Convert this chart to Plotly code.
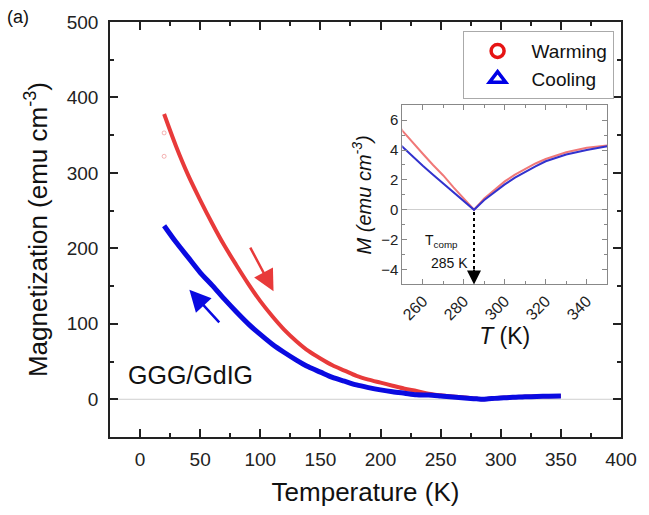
import plotly.graph_objects as go

# ---- data ----
T_warm = [20, 30, 40, 50, 60, 70, 80, 90, 100, 110, 120, 130, 140, 150, 160, 170, 180,
          190, 200, 210, 220, 230, 240, 250, 255, 260, 265, 270, 275, 280, 285,
          290, 295, 300, 305, 310, 315, 320, 330, 340, 350]
M_warm = [378, 335, 297, 264, 233, 204, 178, 153, 130, 110, 92, 77, 64, 54, 45, 38, 31,
          26, 22, 18, 14, 11, 7.5, 5.3, 4.5, 3.75, 3.0, 2.3, 1.5, 0.75, 0.0,
          0.75, 1.35, 1.9, 2.35, 2.75, 3.1, 3.4, 3.85, 4.15, 4.3]

T_cool = [20, 30, 40, 50, 60, 70, 80, 90, 100, 110, 120, 130, 140, 150, 160, 170, 180,
          190, 200, 210, 220, 230, 240, 250, 255, 260, 265, 270, 275, 280, 285,
          290, 295, 300, 305, 310, 315, 320, 330, 340, 350]
M_cool = [230, 208, 188, 168, 151, 133, 116, 100, 86, 73, 62, 52, 43, 36, 29, 24, 19,
          15.5, 12.5, 10, 8, 6, 5.5, 4.2, 3.55, 2.95, 2.35, 1.75, 1.15, 0.55, 0.0,
          0.65, 1.2, 1.7, 2.15, 2.55, 2.9, 3.25, 3.7, 4.0, 4.25]

# stray faint warming points at the start
T_stray = [20, 20]
M_stray = [353, 322]

x_ticks = [0, 50, 100, 150, 200, 250, 300, 350, 400]
y_ticks = [0, 100, 200, 300, 400, 500]
inset_x_ticks = [260, 280, 300, 320, 340]
inset_y_ticks = [-4, -2, 0, 2, 4, 6]

RED = "rgb(232,58,58)"
BLUE = "rgb(10,10,225)"
RED_IN = "rgb(240,120,120)"
BLUE_IN = "rgb(50,50,205)"
FONT = "Arial, Liberation Sans, sans-serif"

fig = go.Figure()

# main curves
fig.add_trace(go.Scatter(x=T_warm, y=M_warm, mode="lines",
                         line=dict(color=RED, width=4, shape="spline", smoothing=0.8),
                         showlegend=False, xaxis="x", yaxis="y"))
fig.add_trace(go.Scatter(x=T_cool, y=M_cool, mode="lines",
                         line=dict(color=BLUE, width=5, shape="spline", smoothing=0.8),
                         showlegend=False, xaxis="x", yaxis="y"))
fig.add_trace(go.Scatter(x=T_stray, y=M_stray, mode="markers",
                         marker=dict(symbol="circle-open", size=4, color="rgba(230,90,90,0.45)",
                                     line=dict(width=1)),
                         showlegend=False, xaxis="x", yaxis="y"))

# legend entries
fig.add_trace(go.Scatter(x=[None], y=[None], mode="markers", name="Warming",
                         marker=dict(symbol="circle-open", size=13, color="rgb(230,20,20)",
                                     line=dict(width=3.5)), xaxis="x", yaxis="y"))
fig.add_trace(go.Scatter(x=[None], y=[None], mode="markers", name="Cooling",
                         marker=dict(symbol="triangle-up-open", size=14, color="rgb(0,0,230)",
                                     line=dict(width=3.5)), xaxis="x", yaxis="y"))

# inset curves
fig.add_trace(go.Scatter(x=T_warm, y=M_warm, mode="lines", line=dict(color=RED_IN, width=2),
                         showlegend=False, xaxis="x2", yaxis="y2"))
fig.add_trace(go.Scatter(x=T_cool, y=M_cool, mode="lines", line=dict(color=BLUE_IN, width=2),
                         showlegend=False, xaxis="x2", yaxis="y2"))

axis_common = dict(showline=True, linecolor="#222", linewidth=1.5, mirror="ticks",
                   ticks="inside", ticklen=8, tickwidth=1.5, tickcolor="#222",
                   showgrid=False, zeroline=False,
                   tickfont=dict(size=19, color="#222", family=FONT))

fig.update_layout(
    width=649, height=515,
    margin=dict(l=110, r=18, t=18, b=78),
    paper_bgcolor="white", plot_bgcolor="white",
    font=dict(family=FONT, color="#111"),
    xaxis=dict(**axis_common, range=[-25, 400], tickvals=x_ticks,
               minor=dict(ticks="inside", ticklen=4, dtick=25, tick0=0, tickcolor="#222"),
               ticklabelstandoff=4,
               title=dict(text="Temperature (K)", font=dict(size=26, family=FONT, color="#111"),
                          standoff=14)),
    yaxis=dict(**axis_common, range=[-50, 500], tickvals=y_ticks,
               minor=dict(ticks="inside", ticklen=4, dtick=50, tick0=0, tickcolor="#222"),
               ticklabelstandoff=6,
               title=dict(text="Magnetization (emu cm<sup>-3</sup>)",
                          font=dict(size=26, family=FONT, color="#111"), standoff=12)),
    xaxis2=dict(domain=[0.572, 0.973], anchor="y2", range=[250, 350], tickvals=inset_x_ticks,
                showline=True, linecolor="#888", linewidth=1, mirror="ticks",
                ticks="inside", ticklen=5, tickcolor="#888", showgrid=False, zeroline=False,
                minor=dict(ticks="inside", ticklen=3, dtick=10, tick0=250, tickcolor="#888"),
                tickangle=-45, tickfont=dict(size=16, color="#222", family=FONT),
                title=dict(text="<i>T</i> (K)", font=dict(size=23, family=FONT, color="#111"),
                           standoff=0)),
    yaxis2=dict(domain=[0.3675, 0.7995], anchor="x2", range=[-5, 7], tickvals=inset_y_ticks,
                showline=True, linecolor="#888", linewidth=1, mirror="ticks",
                ticks="inside", ticklen=5, tickcolor="#888", showgrid=False,
                zeroline=True, zerolinecolor="#cfcfcf", zerolinewidth=1,
                minor=dict(ticks="inside", ticklen=3, dtick=1, tick0=0, tickcolor="#888"),
                tickfont=dict(size=15, color="#222", family=FONT),
                title=dict(text="<i>M (emu cm<sup>-3</sup>)</i>",
                           font=dict(size=20, family=FONT, color="#111"), standoff=4)),
    legend=dict(x=0.69, y=0.978, xanchor="left", yanchor="top",
                bordercolor="#aaa", borderwidth=1, bgcolor="white",
                font=dict(size=19, family=FONT, color="#111"),
                itemwidth=58, tracegroupgap=0),
)

# zero line in the main plot
fig.add_shape(type="line", xref="x", yref="y", x0=-25, x1=400, y0=0, y1=0,
              line=dict(color="#cfcfcf", width=1), layer="below")

# dashed line at T_comp in inset
fig.add_shape(type="line", xref="x2", yref="y2", x0=285, x1=285, y0=-0.15, y1=-4.2,
              line=dict(color="black", width=2, dash="dot"))

annotations = [
    dict(x=285, y=-5, ax=285, ay=-3.9, xref="x2", yref="y2", axref="x2", ayref="y2",
         showarrow=True, arrowhead=2, arrowsize=1.4, arrowwidth=2, arrowcolor="black", text=""),
    dict(x=111, y=143, ax=91, ay=203, xref="x", yref="y", axref="x", ayref="y",
         showarrow=True, arrowhead=2, arrowsize=1.7, arrowwidth=2.5, arrowcolor=RED, text=""),
    dict(x=41, y=145, ax=67, ay=100, xref="x", yref="y", axref="x", ayref="y",
         showarrow=True, arrowhead=2, arrowsize=1.7, arrowwidth=2.5, arrowcolor=BLUE, text=""),
    dict(x=-12, y=32, xref="x", yref="y", text="GGG/GdIG", showarrow=False,
         xanchor="left", yanchor="middle", font=dict(size=25, family=FONT, color="#111")),
    dict(x=260, y=-2.1, xref="x2", yref="y2", text="T<sub>comp</sub>", showarrow=False,
         xanchor="left", yanchor="middle", font=dict(size=14, family=FONT, color="#111")),
    dict(x=283, y=-3.55, xref="x2", yref="y2", text="285 K", showarrow=False,
         xanchor="right", yanchor="middle", font=dict(size=14, family=FONT, color="#111")),
    dict(x=-0.205, y=1.012, xref="paper", yref="paper", text="(a)", showarrow=False,
         xanchor="left", yanchor="middle", font=dict(size=18, family=FONT, color="#111")),
]
fig.update_layout(annotations=annotations)

fig.write_html("out.html")
